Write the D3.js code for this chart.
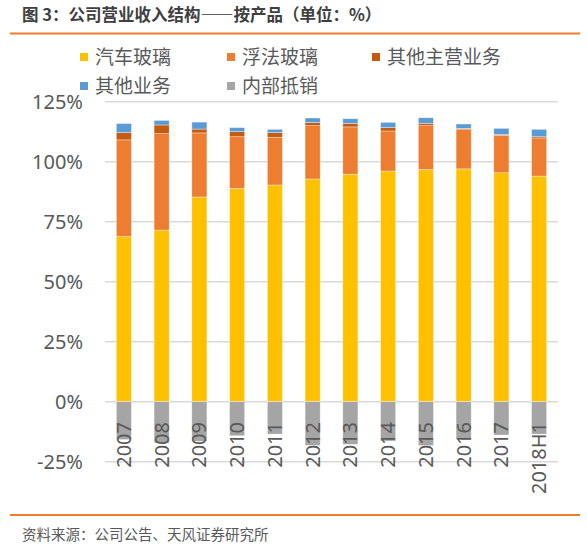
<!DOCTYPE html>
<html lang="zh">
<head>
<meta charset="UTF-8">
<title>公司营业收入结构——按产品</title>
<script src="https://cdn.jsdelivr.net/npm/d3@7"></script>
<style>
  html, body { margin: 0; padding: 0; background: #fff; }
  svg { display: block; font-family: "Noto Sans CJK SC", "Noto Sans", sans-serif; }
</style>
</head>
<body>
<div id="chart"></div>
<script>
// data (percent of revenue)
const years = ["2007", "2008", "2009", "2010", "2011", "2012", "2013", "2014", "2015", "2016", "2017", "2018H1"];
const autoGlass  = [68.8, 71.5, 85.3, 88.9, 90.3, 92.8, 94.8, 96.1, 96.8, 97.0, 95.4, 94.0];
const floatGlass = [40.3, 40.2, 26.7, 21.5, 19.9, 22.2, 19.7, 16.7, 18.2, 16.6, 15.6, 15.9];
const otherMain  = [3.0, 3.6, 1.6, 2.1, 1.9, 1.3, 1.4, 1.4, 1.0, 0.3, 0.4, 0.5];
const otherBiz   = [3.8, 1.9, 2.9, 1.7, 1.4, 1.9, 2.0, 2.2, 2.3, 1.8, 2.5, 3.1];
const offset     = [-15.8, -17.2, -16.5, -14.2, -13.5, -18.2, -17.8, -16.4, -18.3, -15.7, -13.9, -13.5];
const seriesNames = ["汽车玻璃", "浮法玻璃", "其他主营业务", "其他业务", "内部抵销"];
const colors = ["#FFC000", "#ED7D31", "#C55A11", "#5B9BD5", "#A5A5A5"];
const yTicks = [-25, 0, 25, 50, 75, 100, 125];

const W = 587, H = 549;
const plotLeft = 105, plotRight = 558, plotTop = 101.7, plotBottom = 461.7;

const rows = years.map((yr, i) => ({
  year: yr,
  [seriesNames[0]]: autoGlass[i],
  [seriesNames[1]]: floatGlass[i],
  [seriesNames[2]]: otherMain[i],
  [seriesNames[3]]: otherBiz[i],
  [seriesNames[4]]: offset[i]
}));

const x = d3.scaleBand().domain(years).range([plotLeft, plotRight])
    .paddingInner(0.6).paddingOuter(0.3);
const y = d3.scaleLinear().domain([-25, 125]).range([plotBottom, plotTop]);
const color = d3.scaleOrdinal().domain(seriesNames).range(colors);

const stacked = d3.stack().keys(seriesNames)
    .offset(d3.stackOffsetDiverging)(rows);

const svg = d3.select("#chart").append("svg")
    .attr("width", W).attr("height", H);

svg.append("rect").attr("width", W).attr("height", H).attr("fill", "#fff");

// title + rules
svg.append("text")
    .attr("x", 22).attr("y", 21)
    .attr("font-size", 16.5).attr("font-weight", "bold")
    .attr("fill", "#404040")
    .text("图 3：公司营业收入结构——按产品（单位：%）");
svg.append("line").attr("x1", 10).attr("x2", 580).attr("y1", 33.5).attr("y2", 33.5)
    .attr("stroke", "#ED7D31").attr("stroke-width", 2);
svg.append("line").attr("x1", 10).attr("x2", 580).attr("y1", 515).attr("y2", 515)
    .attr("stroke", "#ED7D31").attr("stroke-width", 2);
svg.append("text")
    .attr("x", 22).attr("y", 540)
    .attr("font-size", 14.5).attr("fill", "#595959")
    .text("资料来源：公司公告、天风证券研究所");

// gridlines
svg.append("g")
  .selectAll("line").data(yTicks).join("line")
    .attr("x1", plotLeft).attr("x2", plotRight)
    .attr("y1", d => y(d)).attr("y2", d => y(d))
    .attr("stroke", "#D9D9D9").attr("stroke-width", 1.5);

// y axis labels
const yAxis = svg.append("g")
    .attr("transform", `translate(${plotLeft},0)`)
    .call(d3.axisLeft(y).tickValues(yTicks).tickSize(0).tickPadding(22).tickFormat(d => d + "%"));
yAxis.select(".domain").remove();
yAxis.selectAll("text").attr("font-size", 20).attr("fill", "#595959")
    .attr("font-family", "\"Noto Sans\", \"Noto Sans CJK SC\", sans-serif");

// bars
svg.append("g")
  .selectAll("g").data(stacked).join("g")
    .attr("fill", d => color(d.key))
  .selectAll("rect").data(d => d).join("rect")
    .attr("x", d => x(d.data.year))
    .attr("width", x.bandwidth())
    .attr("y", d => y(Math.max(d[0], d[1])))
    .attr("height", d => Math.abs(y(d[0]) - y(d[1])))
    .attr("stroke", "rgba(255,255,255,0.6)").attr("stroke-width", 0.6);

// x labels (rotated, on top of bars)
svg.append("g")
  .selectAll("text").data(years).join("text")
    .attr("transform", d => `translate(${x(d) + x.bandwidth() / 2 + 7},422) rotate(-90)`)
    .attr("text-anchor", "end")
    .attr("font-size", 20).attr("fill", "#595959")
    .attr("font-family", "\"Noto Sans\", \"Noto Sans CJK SC\", sans-serif")
    .text(d => d);

// legend
const legendPos = [[80, 57], [227, 57], [372, 57], [80, 86], [227, 86]];
const legend = svg.append("g")
  .selectAll("g").data(seriesNames).join("g")
    .attr("transform", (d, i) => `translate(${legendPos[i][0]},${legendPos[i][1]})`);
legend.append("rect").attr("x", 0).attr("y", -4).attr("width", 8).attr("height", 8)
    .attr("fill", d => color(d));
legend.append("text").attr("x", 15).attr("y", 0).attr("dy", "0.36em")
    .attr("font-size", 19).attr("fill", "#595959")
    .text(d => d);
</script>
</body>
</html>
